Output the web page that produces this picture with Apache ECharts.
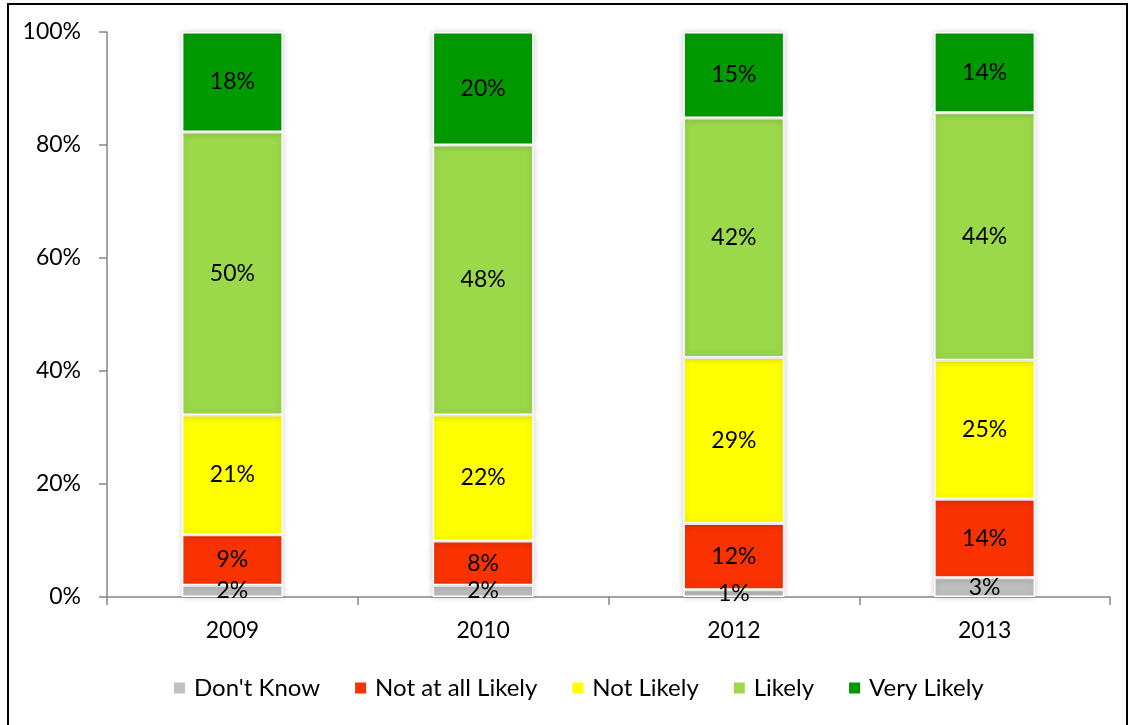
<!DOCTYPE html>
<html>
<head>
<meta charset="utf-8">
<script src="https://cdn.jsdelivr.net/npm/echarts@6/dist/echarts.min.js"></script>
<style>
html,body{margin:0;padding:0;background:#fff;}
#main{width:1130px;height:725px;}
</style>
</head>
<body>
<div id="main"></div>
<script>
const categories = ['2009', '2010', '2012', '2013'];
const dontKnow = [2.1, 2.1, 1.3, 3.4];
const notAtAllLikely = [8.9, 7.8, 11.7, 13.9];
const notLikely = [21.2, 22.3, 29.4, 24.6];
const likely = [50.1, 47.8, 42.4, 43.8];
const veryLikely = [17.7, 20.0, 15.2, 14.3];
const yTicks = ['0%', '20%', '40%', '60%', '80%', '100%'];

const seriesNames = ["Don't Know", 'Not at all Likely', 'Not Likely', 'Likely', 'Very Likely'];
const seriesData = [dontKnow, notAtAllLikely, notLikely, likely, veryLikely];
const colors = ['#BFBFBF', '#F93200', '#FFFF00', '#9BD84A', '#009A00'];
const FONT = 'Lato';

const chart = echarts.init(document.getElementById('main'));
chart.setOption({
  animation: false,
  textStyle: { fontFamily: FONT },
  graphic: [{
    type: 'rect',
    shape: { x: 8, y: 4, width: 1119, height: 722 },
    style: { fill: 'none', stroke: '#000', lineWidth: 2 },
    silent: true
  }],
  grid: { left: 107, right: 20, top: 32, bottom: 128 },
  legend: {
    top: 676,
    left: 172,
    padding: 0,
    itemWidth: 13,
    itemHeight: 13,
    itemGap: 33,
    icon: 'rect',
    textStyle: { fontFamily: FONT, fontSize: 24, color: '#000', padding: [0, 0, 0, 3] },
    data: seriesNames
  },
  xAxis: {
    type: 'category',
    data: categories,
    axisLine: { lineStyle: { color: '#868686', width: 1.5 } },
    axisTick: { show: true, length: 8, lineStyle: { color: '#868686', width: 1.5 } },
    axisLabel: { fontFamily: FONT, fontSize: 23, color: '#000', margin: 22 }
  },
  yAxis: {
    type: 'value',
    min: 0,
    max: 100,
    interval: 20,
    axisLine: { show: true, lineStyle: { color: '#868686', width: 1.5 } },
    axisTick: { show: true, length: 8, lineStyle: { color: '#868686', width: 1.5 } },
    splitLine: { show: false },
    axisLabel: {
      fontFamily: FONT, fontSize: 23, color: '#000', margin: 26,
      formatter: function (v) { return yTicks[Math.round(v / 20)]; }
    }
  },
  series: seriesNames.map(function (name, i) {
    return {
      name: name,
      type: 'bar',
      stack: 'total',
      barWidth: 101,
      data: seriesData[i],
      itemStyle: {
        color: colors[i],
        borderColor: '#fff',
        borderWidth: 1.5,
        shadowColor: 'rgba(0,0,0,0.2)',
        shadowBlur: 7
      },
      label: {
        show: true,
        position: 'inside',
        fontFamily: FONT,
        fontSize: 23,
        color: '#000',
        formatter: function (p) { return Math.round(p.value) + '%'; }
      }
    };
  })
});
</script>
</body>
</html>
